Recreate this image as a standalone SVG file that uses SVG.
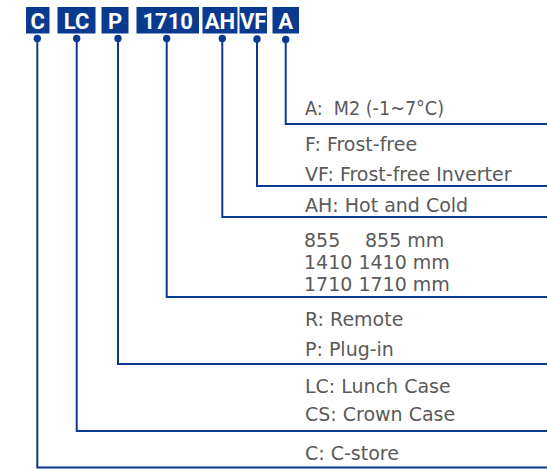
<svg xmlns="http://www.w3.org/2000/svg" width="547" height="469" viewBox="0 0 547 469">
<style>
.box{fill:#0a3a8f}
.code{font-family:Roboto,"Liberation Sans",sans-serif;font-weight:bold;font-size:22px;fill:#ffffff;text-anchor:middle}
.lbl{font-family:"DejaVu Sans",sans-serif;font-size:19px;fill:#5a5a5a}
.ln{fill:none;stroke:#0a3a8f;stroke-width:2}
.dot{fill:#0a3a8f}
</style>
<rect width="547" height="469" fill="#ffffff"/>
<g id="node-C"><rect class="box" x="26" y="7" width="23.5" height="26.5"/><text class="code" x="37.7" y="28.5">C</text></g>
<g id="node-LC"><rect class="box" x="57.5" y="7" width="38" height="26.5"/><text class="code" x="76.5" y="28.5">LC</text></g>
<g id="node-P"><rect class="box" x="101.5" y="7" width="27" height="26.5"/><text class="code" x="115" y="28.5">P</text></g>
<g id="node-1710"><rect class="box" x="136.5" y="7" width="62.5" height="26.5"/><text class="code" x="167.7" y="28.5">1710</text></g>
<g id="node-AH"><rect class="box" x="202.5" y="7" width="35" height="26.5"/><text class="code" x="220" y="28.5">AH</text></g>
<g id="node-VF"><rect class="box" x="239.5" y="7" width="27.5" height="26.5"/><text class="code" x="253.2" y="28.5">VF</text></g>
<g id="node-A"><rect class="box" x="272.5" y="7" width="26.5" height="26.5"/><text class="code" x="285.7" y="28.5">A</text></g>
<g id="connectors">
<circle class="dot" cx="37.3" cy="38.5" r="3.7"/>
<circle class="dot" cx="76.7" cy="38.5" r="3.7"/>
<circle class="dot" cx="118" cy="38.5" r="3.7"/>
<circle class="dot" cx="166.7" cy="38.5" r="3.7"/>
<circle class="dot" cx="222.3" cy="38.5" r="3.7"/>
<circle class="dot" cx="257" cy="39" r="3.7"/>
<circle class="dot" cx="285.7" cy="39.5" r="3.7"/>
<path class="ln" d="M285.7 39.5 V124 H547"/>
<path class="ln" d="M257 39 V186 H547"/>
<path class="ln" d="M222.3 38.5 V217 H547"/>
<path class="ln" d="M166.7 38.5 V297 H547"/>
<path class="ln" d="M118 38.5 V364 H547"/>
<path class="ln" d="M76.7 38.5 V431 H547"/>
<path class="ln" d="M37.3 38.5 V467.5 H547"/>
</g>
<g id="labels">
<text class="lbl" x="305" y="115" xml:space="preserve" textLength="139" lengthAdjust="spacingAndGlyphs">A:  M2 (-1~7°C)</text>
<text class="lbl" x="305" y="151">F: Frost-free</text>
<text class="lbl" x="305" y="181">VF: Frost-free Inverter</text>
<text class="lbl" x="305" y="212">AH: Hot and Cold</text>
<text class="lbl" x="304" y="247">855<tspan x="365">855 mm</tspan></text>
<text class="lbl" x="304" y="269">1410 1410 mm</text>
<text class="lbl" x="304" y="291">1710 1710 mm</text>
<text class="lbl" x="305" y="326">R: Remote</text>
<text class="lbl" x="305" y="356">P: Plug-in</text>
<text class="lbl" x="305" y="393">LC: Lunch Case</text>
<text class="lbl" x="305" y="421">CS: Crown Case</text>
<text class="lbl" x="305" y="460">C: C-store</text>
</g>
</svg>
